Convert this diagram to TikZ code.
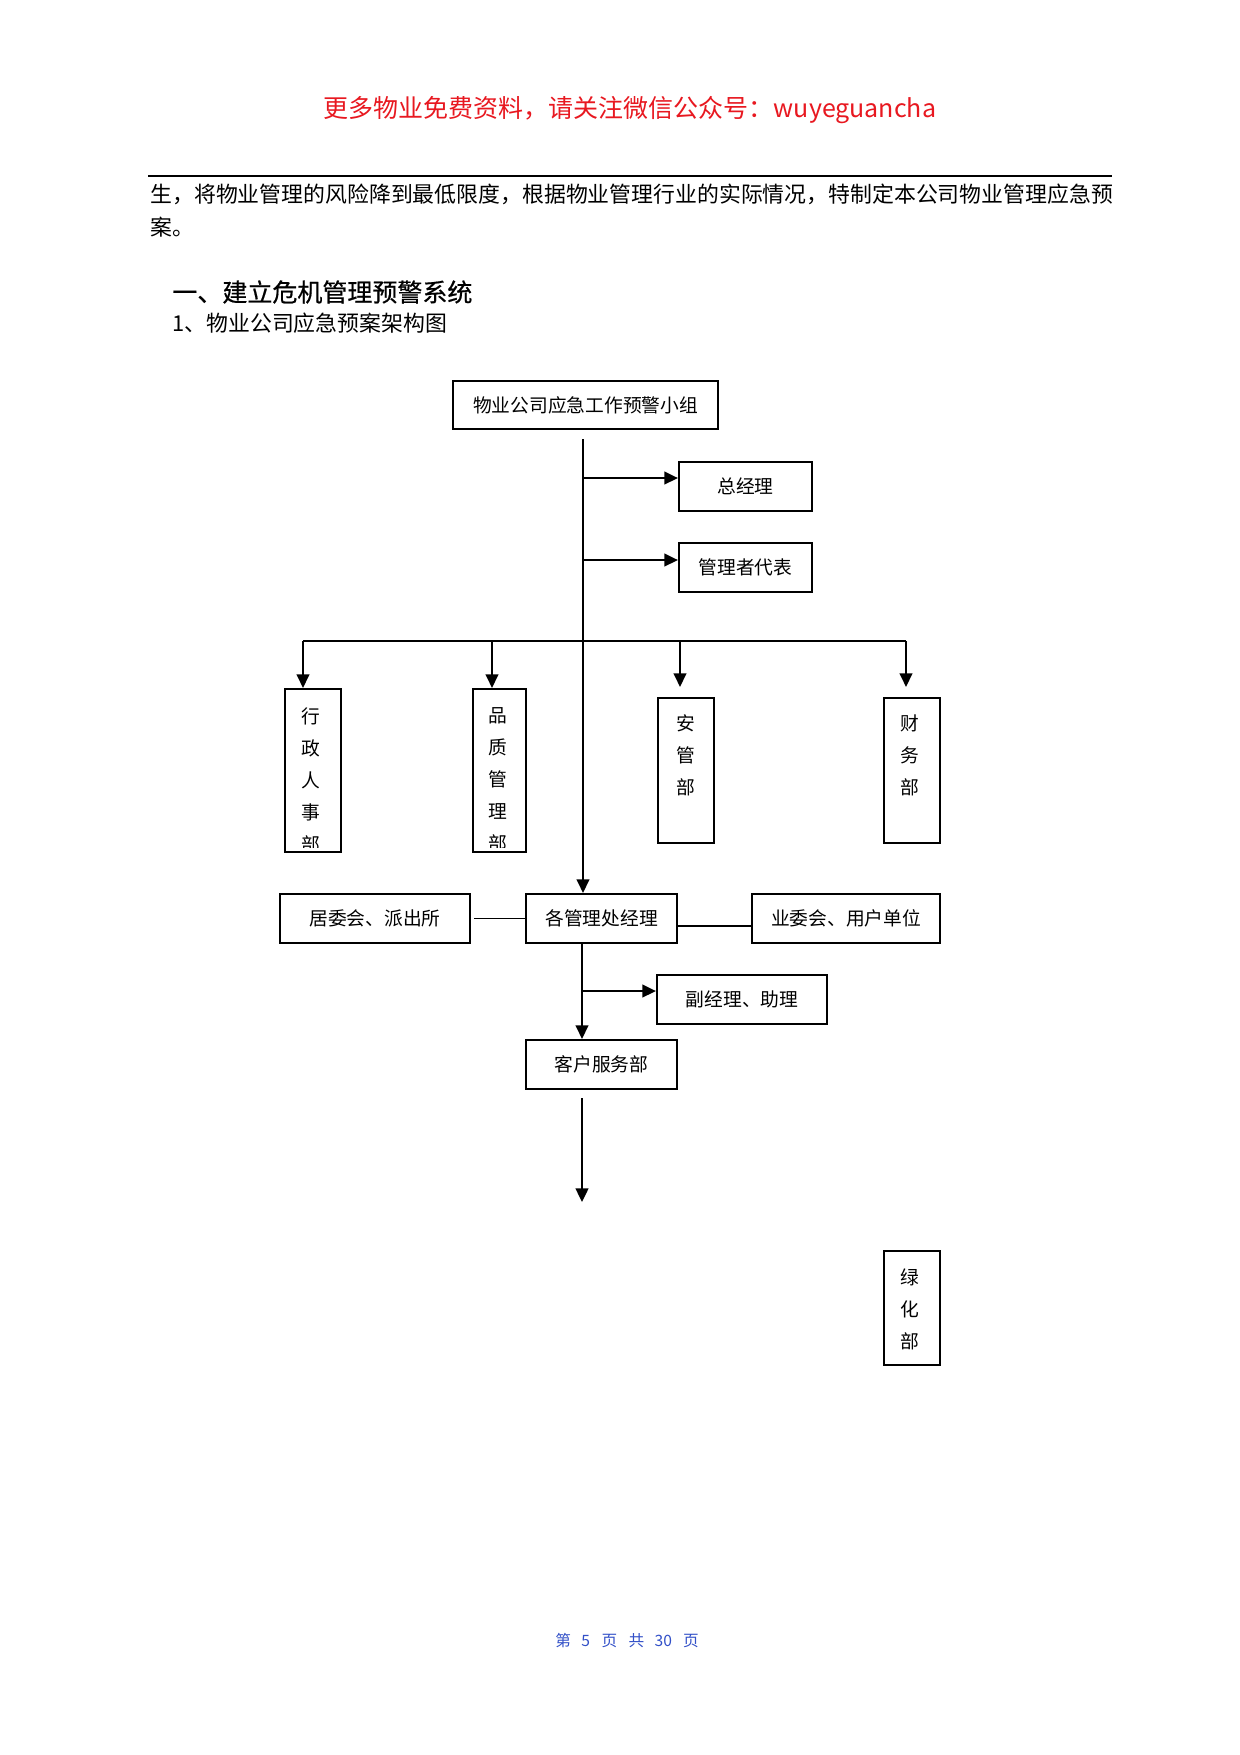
\documentclass[tikz,border=0pt]{standalone}
\usepackage{fontspec}
\setmainfont{Noto Sans CJK SC}
\newfontfamily\hfont[FakeBold=0.6]{Noto Sans CJK SC}
\usetikzlibrary{arrows.meta}
\definecolor{hdrred}{RGB}{232,24,32}
\definecolor{footblue}{RGB}{50,80,200}
\tikzset{
  bw/.style={minimum width=#1*0.48pt},
  bh/.style={minimum height=#1*0.48pt},
  box/.style={draw=black, line width=1pt, inner sep=0pt, font=\fontsize{9}{11}\selectfont},
  vtext/.style={inner sep=0pt, align=center, font=\fontsize{9}{15.4}\selectfont},
  conn/.style={line width=1.2pt, draw=black},
  arr/.style={conn, -{Triangle[length=6.5pt,width=6pt]}},
  thin/.style={line width=0.5pt, draw=black},
  txt/.style={inner sep=0pt, anchor=west}
}
\begin{document}
\begin{tikzpicture}[x=0.48pt,y=-0.48pt]
\useasboundingbox (0,0) rectangle (1240,1755);
\fill[white] (0,0) rectangle (1240,1755);

% header and page text
\node[inner sep=0pt, text=hdrred, font=\fontsize{12}{14}\selectfont] (hdr) at (630,110) {更多物业免费资料，请关注微信公众号：wuyeguancha};
\coordinate (ruleL) at (148,176);
\coordinate (ruleR) at (1112,176);
\draw[line width=0.6pt] (ruleL) -- (ruleR);
\node[txt, font=\fontsize{10.5}{12}\selectfont] (p1) at (150,194) {生，将物业管理的风险降到最低限度，根据物业管理行业的实际情况，特制定本公司物业管理应急预};
\node[txt, font=\fontsize{10.5}{12}\selectfont] (p2) at (150,227) {案。};
\node[txt, font=\fontsize{12}{14}\hfont] (h1) at (172,292) {一、建立危机管理预警系统};
\node[txt, font=\fontsize{10.5}{12}\selectfont] (h2) at (172,323) {1、物业公司应急预案架构图};

% boxes
\node[box, bw=265, bh=48] (top) at (585.5,405) {物业公司应急工作预警小组};
\node[box, bw=133, bh=49] (gm) at (745.5,486.5) {总经理};
\node[box, bw=133, bh=49] (rep) at (745.5,567.5) {管理者代表};
\node[box, bw=56, bh=163] (b1) at (313,770.5) {};
\node[box, bw=53, bh=163] (b2) at (499.5,770.5) {};
\node[box, bw=56, bh=145] (b3) at (686,770.5) {};
\node[box, bw=56, bh=145] (b4) at (912,770.5) {};
\node[box, bw=190, bh=49] (jw) at (375,918.5) {居委会、派出所};
\node[box, bw=151, bh=49] (mgr) at (601.5,918.5) {各管理处经理};
\node[box, bw=188, bh=49] (yw) at (846,918.5) {业委会、用户单位};
\node[box, bw=170, bh=49] (dep) at (742,999.5) {副经理、助理};
\node[box, bw=151, bh=49] (cs) at (601.5,1064.5) {客户服务部};
\node[box, bw=56, bh=114] (gh) at (912,1308) {};

% vertical texts
\begin{scope}
\clip (285,689) rectangle (341,847);
\node[vtext] (t1) at (311,780) {行\\政\\人\\事\\部};
\end{scope}
\begin{scope}
\clip (473,689) rectangle (526,847);
\node[vtext] (t2) at (498,780) {品\\质\\管\\理\\部};
\end{scope}
\node[vtext] (t3) at (686,755) {安\\管\\部};
\node[vtext] (t4) at (910,755) {财\\务\\部};
\node[vtext] (t5) at (910,1309) {绿\\化\\部};

% connectors
\coordinate (stemtop) at (583,439);
\draw[arr] (stemtop) -- (stemtop |- mgr.north);
\coordinate (a1) at (584,478);
\draw[arr] (a1) -- (a1 -| gm.west);
\coordinate (a2) at (584,560);
\draw[arr] (a2) -- (a2 -| rep.west);

\coordinate (busL) at (303,641);
\coordinate (busR) at (906,641);
\coordinate (bus2) at (492,641);
\coordinate (bus3) at (680,641);
\draw[conn] (busL) -- (busR);
\draw[arr] (busL) -- (busL |- b1.north);
\draw[arr] (bus2) -- (bus2 |- b2.north);
\draw[arr, shorten >=4.8pt] (bus3) -- (bus3 |- b3.north);
\draw[arr, shorten >=4.8pt] (busR) -- (busR |- b4.north);

\draw[thin, shorten <=1.5pt] (jw.east) -- (mgr.west);
\coordinate (yl) at (677,926);
\draw[conn] (yl) -- (yl -| yw.west);

\coordinate (ms) at (582,943);
\draw[arr] (ms) -- (ms |- cs.north);
\coordinate (bd) at (582,991);
\draw[arr] (bd) -- (bd -| dep.west);
\coordinate (bt) at (582,1098);
\coordinate (bb) at (582,1202);
\draw[arr] (bt) -- (bb);

% footer
\node[inner sep=0pt, text=footblue, font=\fontsize{7.5}{9}\selectfont] (foot) at (627,1641) {第\hspace{5pt}5\hspace{5.5pt}页\hspace{5.5pt}共\hspace{5pt}30\hspace{5.3pt}页};
\end{tikzpicture}
\end{document}
